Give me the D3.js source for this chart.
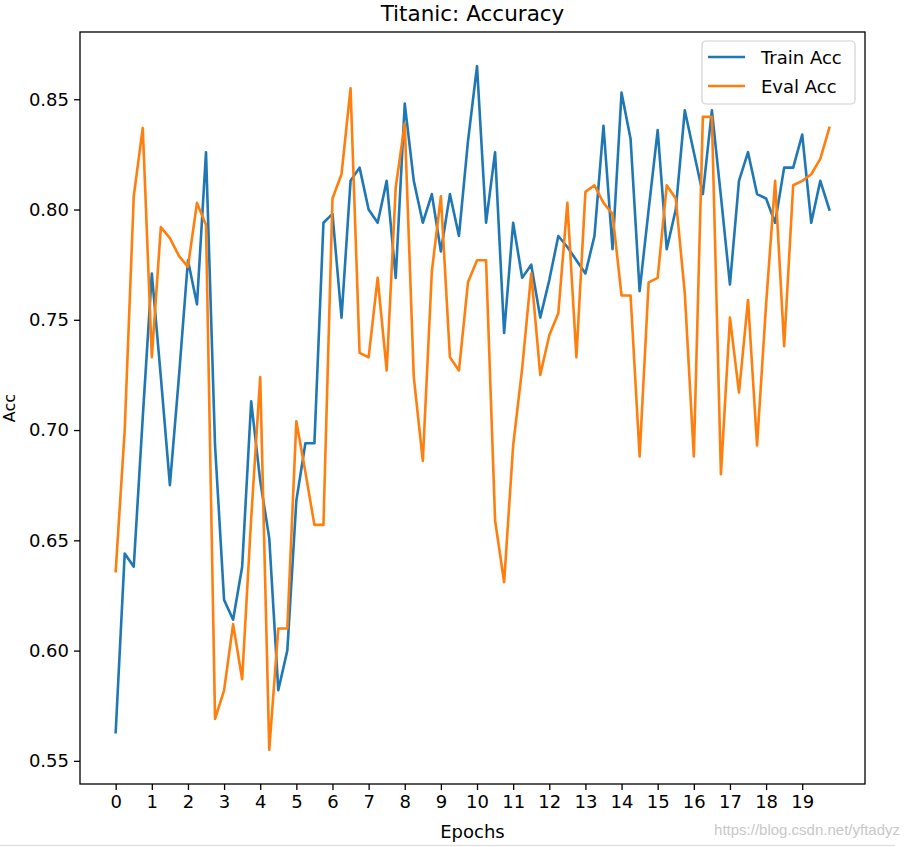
<!DOCTYPE html>
<html>
<head>
<meta charset="utf-8">
<script src="https://cdn.jsdelivr.net/npm/d3@7"></script>
<style>
  html, body { margin: 0; padding: 0; background: #fff; }
  svg { display: block; font-family: "DejaVu Sans", sans-serif; }
</style>
</head>
<body>
<svg id="chart" width="909" height="847"></svg>
<script>
// ---- data ----
const stepsPerEpoch = 4;
const xTicks = [0,1,2,3,4,5,6,7,8,9,10,11,12,13,14,15,16,17,18,19];
const yTicks = [0.55, 0.60, 0.65, 0.70, 0.75, 0.80, 0.85];
const seriesNames = ["Train Acc", "Eval Acc"];
const trainAcc = [
  0.563, 0.644, 0.638, 0.706, 0.771, 0.724, 0.675, 0.724, 0.777, 0.757,
  0.826, 0.693, 0.623, 0.614, 0.638, 0.713, 0.677, 0.651, 0.582, 0.600,
  0.668, 0.694, 0.694, 0.794, 0.798, 0.751, 0.813, 0.819, 0.800, 0.794,
  0.813, 0.769, 0.848, 0.813, 0.794, 0.807, 0.781, 0.807, 0.788, 0.831,
  0.865, 0.794, 0.826, 0.744, 0.794, 0.769, 0.775, 0.751, 0.768, 0.788,
  0.783, 0.777, 0.771, 0.788, 0.838, 0.782, 0.853, 0.832, 0.763, 0.800,
  0.836, 0.782, 0.800, 0.845, 0.826, 0.807, 0.845, 0.806, 0.766, 0.813,
  0.826, 0.807, 0.805, 0.794, 0.819, 0.819, 0.834, 0.794, 0.813, 0.800
];
const evalAcc = [
  0.636, 0.700, 0.806, 0.837, 0.733, 0.792, 0.787, 0.779, 0.774, 0.803,
  0.793, 0.569, 0.582, 0.612, 0.587, 0.660, 0.724, 0.555, 0.610, 0.610,
  0.704, 0.681, 0.657, 0.657, 0.805, 0.816, 0.855, 0.735, 0.733, 0.769,
  0.727, 0.810, 0.839, 0.724, 0.686, 0.772, 0.806, 0.733, 0.727, 0.767,
  0.777, 0.777, 0.659, 0.631, 0.693, 0.728, 0.771, 0.725, 0.743, 0.753,
  0.803, 0.733, 0.808, 0.811, 0.803, 0.798, 0.761, 0.761, 0.688, 0.767,
  0.769, 0.811, 0.805, 0.762, 0.688, 0.842, 0.842, 0.680, 0.751, 0.717,
  0.759, 0.693, 0.757, 0.813, 0.738, 0.811, 0.813, 0.816, 0.823, 0.837
];
const colors = ["#1f77b4", "#ff7f0e"];

// ---- layout ----
const W = 909, H = 847;
const plot = { left: 80, right: 865, top: 32, bottom: 784 };
const svg = d3.select("#chart");
svg.append("rect").attr("width", W).attr("height", H).attr("fill", "#fff");

const epochs = trainAcc.map((_, i) => i / stepsPerEpoch);
const xMin = d3.min(epochs), xMax = d3.max(epochs);
const xPad = (xMax - xMin) * 0.05;
const x = d3.scaleLinear().domain([xMin - xPad, xMax + xPad]).range([plot.left, plot.right]);
const allVals = trainAcc.concat(evalAcc);
const yMin = d3.min(allVals), yMax = d3.max(allVals);
const yPad = (yMax - yMin) * 0.05;
const y = d3.scaleLinear().domain([yMin - yPad, yMax + yPad]).range([plot.bottom, plot.top]);

// lines
const line = d3.line().x((d, i) => x(epochs[i])).y(d => y(d));
[trainAcc, evalAcc].forEach((s, k) => {
  svg.append("path").datum(s)
    .attr("d", line)
    .attr("fill", "none")
    .attr("stroke", colors[k])
    .attr("stroke-width", 2.6)
    .attr("stroke-linejoin", "round")
    .attr("stroke-linecap", "square");
});

// axes
const xAxis = svg.append("g")
  .attr("transform", `translate(0,${plot.bottom})`)
  .call(d3.axisBottom(x).tickValues(xTicks).tickFormat(d3.format("d")).tickSizeOuter(0).tickSize(6).tickPadding(5));
const yAxis = svg.append("g")
  .attr("transform", `translate(${plot.left},0)`)
  .call(d3.axisLeft(y).tickValues(yTicks).tickFormat(d3.format(".2f")).tickSizeOuter(0).tickSize(6).tickPadding(5));
[xAxis, yAxis].forEach(g => {
  g.select(".domain").remove();
  g.selectAll(".tick line").attr("stroke", "#000").attr("stroke-width", 1.3);
  g.selectAll(".tick text").attr("fill", "#000").attr("font-size", 18)
    .attr("font-family", "DejaVu Sans, sans-serif");
});

// frame
svg.append("rect")
  .attr("x", plot.left).attr("y", plot.top)
  .attr("width", plot.right - plot.left).attr("height", plot.bottom - plot.top)
  .attr("fill", "none").attr("stroke", "#000").attr("stroke-width", 1.3);

// title & labels
svg.append("text").attr("x", (plot.left + plot.right) / 2).attr("y", 21)
  .attr("text-anchor", "middle").attr("font-size", 21.5).attr("fill", "#000")
  .text("Titanic: Accuracy");
svg.append("text").attr("x", (plot.left + plot.right) / 2).attr("y", 838)
  .attr("text-anchor", "middle").attr("font-size", 18).attr("fill", "#000")
  .text("Epochs");
svg.append("text")
  .attr("transform", `translate(15,${(plot.top + plot.bottom) / 2}) rotate(-90)`)
  .attr("text-anchor", "middle").attr("font-size", 16).attr("fill", "#000")
  .text("Acc");

// legend
const lg = svg.append("g");
lg.append("rect").attr("x", 702).attr("y", 41).attr("width", 153).attr("height", 63)
  .attr("rx", 4).attr("fill", "#fff").attr("fill-opacity", 0.8)
  .attr("stroke", "#d0d0d0").attr("stroke-width", 1.2);
seriesNames.forEach((name, k) => {
  const yy = 57 + k * 29;
  lg.append("line").attr("x1", 708).attr("x2", 745).attr("y1", yy).attr("y2", yy)
    .attr("stroke", colors[k]).attr("stroke-width", 2.6);
  lg.append("text").attr("x", 761).attr("y", yy + 6.5)
    .attr("font-size", 18).attr("fill", "#000").text(name);
});

// watermark and screenshot edge
svg.append("text").attr("x", 900).attr("y", 835).attr("text-anchor", "end")
  .attr("font-size", 15).attr("fill", "#c8c8c8").attr("font-family", "Liberation Sans Narrow, Liberation Sans, sans-serif")
  .text("https://blog.csdn.net/yftadyz");
svg.append("line").attr("x1", 0).attr("x2", 895).attr("y1", 845.5).attr("y2", 845.5)
  .attr("stroke", "#e2e2e2").attr("stroke-width", 1.5);
</script>
</body>
</html>
